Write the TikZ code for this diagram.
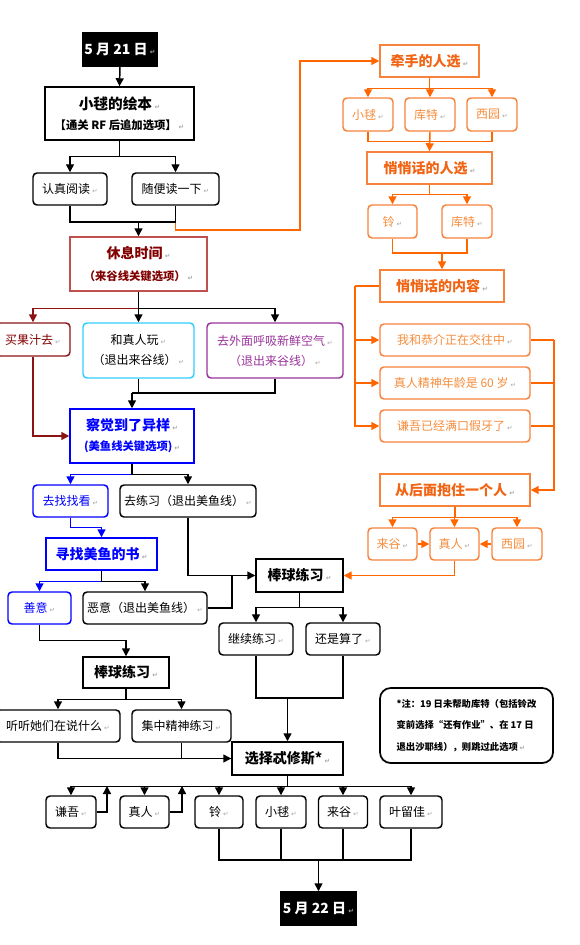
\documentclass[tikz,border=0pt]{standalone}
\usepackage{fontspec}
\setmainfont{Noto Sans CJK SC}
\newfontfamily\retfont{DejaVu Sans}
\usetikzlibrary{arrows.meta}
\definecolor{dred}{RGB}{128,0,0}
\definecolor{rline}{RGB}{140,20,20}
\definecolor{rborder}{RGB}{192,80,77}
\definecolor{cyanb}{RGB}{51,204,255}
\definecolor{purp}{RGB}{153,51,153}
\definecolor{blu}{RGB}{0,0,255}
\definecolor{oline}{RGB}{255,102,0}
\definecolor{oborder}{RGB}{247,130,60}
\definecolor{otext}{RGB}{240,100,20}
\definecolor{olabel}{RGB}{245,140,60}
\newcommand\rmk{\,{\retfont\fontsize{5}{5}\selectfont\textcolor{gray!70}{↵}}}
\tikzset{
  sz/.style 2 args={minimum width=#1*0.75pt, minimum height=#2*0.75pt},
  box/.style={draw, line width=1.1pt, align=center, inner sep=0pt},
  rbox/.style={box, rounded corners=3pt},
  hd/.style={font=\fontsize{10.5}{13}\selectfont\bfseries},
  sub/.style={font=\fontsize{8.5}{11}\selectfont\bfseries},
  lb/.style={font=\fontsize{9}{12}\selectfont},
  ln/.style={line width=1.1pt},
  arr/.style={ln, -{Triangle[length=6pt,width=6pt]}},
  obox/.style={draw=oborder, text=otext},
  olb/.style={draw=oborder, text=olabel},
}
\begin{document}
\begin{tikzpicture}[x=0.75pt,y=-0.75pt]
\useasboundingbox (0,0) rectangle (580,945);
% ---------------- left column nodes
\node[box, fill=black, text=white, hd, sz={74}{33}] (d21) at (120,49.5) {5 月 21 日\rmk};
\node[box, sz={149}{53}] (book) at (119.5,113.5) {{\fontsize{11}{13}\selectfont\bfseries 小毬的绘本\rmk}\\[3pt]{\fontsize{8.5}{11}\selectfont\bfseries 【通关 RF 后追加选项】\rmk}};
\node[rbox, lb, sz={74}{32}] (serious) at (70,189) {认真阅读\rmk};
\node[rbox, lb, sz={87}{32}] (casual) at (175.5,189) {随便读一下\rmk};
\node[box, draw=rborder, text=dred, sz={137}{54}] (rest) at (138.5,264) {{\fontsize{10.5}{13}\selectfont\bfseries 休息时间\rmk}\\[4pt]{\fontsize{8.5}{11}\selectfont\bfseries （来谷线关键选项）\rmk}};
\node[rbox, draw=rline, text=dred, lb, sz={74}{33}] (juice) at (33,339.5) {买果汁去\rmk};
\node[rbox, draw=cyanb, lb, sz={111}{55}] (mahito) at (138.5,350.5) {和真人玩\rmk\\[3pt]（退出来谷线）\rmk};
\node[rbox, draw=purp, text=purp, lb, sz={136}{55}] (outside) at (275,350.5) {去外面呼吸新鲜空气\rmk\\[3pt]（退出来谷线）\rmk};
\node[box, draw=blu, text=blu, sz={124}{54}] (notice) at (132,436) {{\fontsize{10.5}{13}\selectfont\bfseries 察觉到了异样\rmk}\\[3pt]{\fontsize{8.5}{11}\selectfont\bfseries (美鱼线关键选项)\rmk}};
\node[rbox, draw=blu, text=blu, lb, sz={75}{32}] (findout) at (70.5,501) {去找找看\rmk};
\node[rbox, lb, sz={136}{32}] (practice) at (188,501) {去练习（退出美鱼线）\rmk};
\node[box, draw=blu, text=blu, hd, sz={111}{32}] (searchbook) at (101.5,554) {寻找美鱼的书\rmk};
\node[rbox, draw=blu, text=blu, lb, sz={63}{32}] (good) at (39.5,608) {善意\rmk};
\node[rbox, lb, sz={124}{32}] (evil) at (145,608) {恶意（退出美鱼线）\rmk};
\node[box, hd, sz={87}{33}] (bbr) at (299.5,575.5) {棒球练习\rmk};
\node[rbox, lb, sz={74}{32}] (cont) at (256,639) {继续练习\rmk};
\node[rbox, lb, sz={74}{32}] (quit) at (343,639) {还是算了\rmk};
\node[box, hd, sz={86}{31}] (bbl) at (126,672.5) {棒球练习\rmk};
\node[rbox, lb, sz={124}{32}] (listen) at (58,726) {听听她们在说什么\rmk};
\node[rbox, lb, sz={99}{32}] (focus) at (181.5,726) {集中精神练习\rmk};
\node[box, hd, sz={111}{33}] (theseus) at (287.5,758.5) {选择忒修斯*\rmk};
\node[rbox, lb, sz={50}{32}] (kengo) at (71,812) {谦吾\rmk};
\node[rbox, lb, sz={49}{32}] (masato) at (144.5,812) {真人\rmk};
\node[rbox, lb, sz={48}{32}] (rin) at (219,812) {铃\rmk};
\node[rbox, lb, sz={50}{32}] (komari) at (281,812) {小毬\rmk};
\node[rbox, lb, sz={49}{32}] (kurugaya) at (343,812) {来谷\rmk};
\node[rbox, lb, sz={62}{32}] (haruka) at (411,812) {叶留佳\rmk};
\node[box, fill=black, text=white, hd, sz={75}{33}] (d22) at (318.5,908.5) {5 月 22 日\rmk};
\node[box, rounded corners=8pt, line width=1.3pt, sz={173}{75}, align=left, font=\fontsize{7}{16}\selectfont\bfseries] (note) at (466.5,725.5) {*注：19 日未帮助库特（包括铃改\\变前选择“还有作业”、在 17 日\\退出沙耶线），则跳过此选项\rmk};
% ---------------- right column nodes (orange)
\node[box, obox, hd, sz={99}{32}] (hand) at (429.5,61) {牵手的人选\rmk};
\node[rbox, olb, lb, sz={50}{33}] (okomari) at (368,114.5) {小毬\rmk};
\node[rbox, olb, lb, sz={50}{33}] (okud) at (430,114.5) {库特\rmk};
\node[rbox, olb, lb, sz={50}{33}] (onishi) at (492,114.5) {西园\rmk};
\node[box, obox, hd, sz={125}{32}] (whowhisper) at (429.5,168) {悄悄话的人选\rmk};
\node[rbox, olb, lb, sz={49}{33}] (orin) at (392.5,221.5) {铃\rmk};
\node[rbox, olb, lb, sz={50}{33}] (okud2) at (467,221.5) {库特\rmk};
\node[box, obox, hd, sz={124}{32}] (whatwhisper) at (442,286) {悄悄话的内容\rmk};
\node[rbox, olb, lb, sz={150}{32}] (w1) at (455,340) {我和恭介正在交往中\rmk};
\node[rbox, olb, lb, sz={150}{32}] (w2) at (455,383) {真人精神年龄是 60 岁\rmk};
\node[rbox, olb, lb, sz={150}{32}] (w3) at (455,426) {谦吾已经满口假牙了\rmk};
\node[box, obox, hd, sz={150}{32}] (hug) at (455,490) {从后面抱住一个人\rmk};
\node[rbox, olb, lb, sz={49}{32}] (okuru) at (392.5,544) {来谷\rmk};
\node[rbox, olb, lb, sz={49}{32}] (omasato) at (454.5,544) {真人\rmk};
\node[rbox, olb, lb, sz={50}{32}] (onishi2) at (517,544) {西园\rmk};
% ---------------- junction coordinates
\coordinate (j1) at (138.5,222);
\coordinate (oc1) at (300,230);
\coordinate (j2) at (132,393);
\coordinate (j3) at (232,575.5);
\coordinate (j4) at (287.5,698);
\coordinate (u1) at (107,786);
\coordinate (u2) at (182,786);
\coordinate (j5) at (318.5,860);
\coordinate (oj1) at (442,253);
\coordinate (oj2) at (355,286);
\coordinate (oj3) at (554,340);
% ---------------- connectors (left)
\draw[arr] (d21.south) -- (book.north);
\draw[arr] (book.south) -- ++(0,16) -| (serious.north);
\draw[arr] (book.south) -- ++(0,16) -| (casual.north);
\draw[arr, oline] (casual.south) |- (oc1) |- (hand.west);
\draw[ln] (serious.south) |- (j1) -| (casual.south);
\draw[arr] (j1) -- (rest.north);
\draw[arr, rline] (rest.south) -- ++(0,17) -| (juice.north);
\draw[arr] (rest.south) -- ++(0,17) -| (outside.north);
\draw[arr] (rest.south) -- (mahito.north);
\draw[arr, rline] (juice.south) |- (notice.west);
\draw[ln] (mahito.south) -- ++(0,15);
\draw[ln] (outside.south) |- (j2);
\draw[arr] (j2) -- (notice.north);
\draw[arr, blu] (notice.south) -- ++(0,11) -| (findout.north);
\draw[arr] (notice.south) -- ++(0,11) -| (practice.north);
\draw[arr, blu] (findout.south) -- ++(0,10) -| (searchbook.north);
\draw[arr, blu] (searchbook.south) -- ++(0,11) -| (good.north);
\draw[arr] (searchbook.south) -- ++(0,11) -| (evil.north);
\draw[arr] (practice.south) |- (bbr.west);
\draw[ln] (evil.east) -| (j3);
\draw[arr, oline] (omasato.south) |- (bbr.east);
\draw[arr] (bbr.south) -- ++(0,15) -| (cont.north);
\draw[arr] (bbr.south) -- ++(0,15) -| (quit.north);
\draw[ln] (cont.south) |- (j4) -| (quit.south);
\draw[arr] (j4) -- (theseus.north);
\draw[arr] (good.south) -- ++(0,16) -| (bbl.north);
\draw[arr] (bbl.south) -- ++(0,11) -| (listen.north);
\draw[arr] (bbl.south) -- ++(0,11) -| (focus.north);
\draw[arr] (listen.south) |- (theseus.west);
\draw[ln] (focus.south) |- (theseus.west);
\foreach \n in {kengo,masato,rin,komari,kurugaya,haruka}
  \draw[arr] (theseus.south) -- ++(0,11) -| (\n.north);
\draw[arr] (kengo.east) -| (u1);
\draw[arr] (masato.east) -| (u2);
\draw[ln] (rin.south) |- (j5) -| (haruka.south);
\draw[ln] (komari.south) -- (komari.south |- j5);
\draw[ln] (kurugaya.south) -- (kurugaya.south |- j5);
\draw[arr] (j5) -- (d22.north);
% ---------------- connectors (right, orange)
\begin{scope}[oline]
\draw[arr] (hand.south) -- ++(0,11) -| (okomari.north);
\draw[arr] (hand.south) -- ++(0,11) -| (okud.north);
\draw[arr] (hand.south) -- ++(0,11) -| (onishi.north);
\draw[ln] (okomari.south) -- ++(0,10) -| (onishi.south);
\draw[arr] (okud.south) -- (whowhisper.north);
\draw[arr] (whowhisper.south) -- ++(0,10) -| (orin.north);
\draw[arr] (whowhisper.south) -- ++(0,10) -| (okud2.north);
\draw[ln] (orin.south) |- (oj1) -| (okud2.south);
\draw[arr] (oj1) -- (whatwhisper.north);
\draw[ln] (whatwhisper.west) -- (oj2);
\draw[arr] (oj2) |- (w1.west);
\draw[arr] (oj2) |- (w2.west);
\draw[arr] (oj2) |- (w3.west);
\draw[ln] (w1.east) -- (oj3);
\draw[ln] (w2.east) -- (w2.east -| oj3);
\draw[ln] (w3.east) -- (w3.east -| oj3);
\draw[arr] (oj3) |- (hug.east);
\draw[arr] (hug.south) -- ++(0,11) -| (okuru.north);
\draw[arr] (hug.south) -- ++(0,11) -| (omasato.north);
\draw[arr] (hug.south) -- ++(0,11) -| (onishi2.north);
\draw[arr] (okuru.east) -- (omasato.west);
\draw[arr] (onishi2.west) -- (omasato.east);
\end{scope}
\end{tikzpicture}
\end{document}
